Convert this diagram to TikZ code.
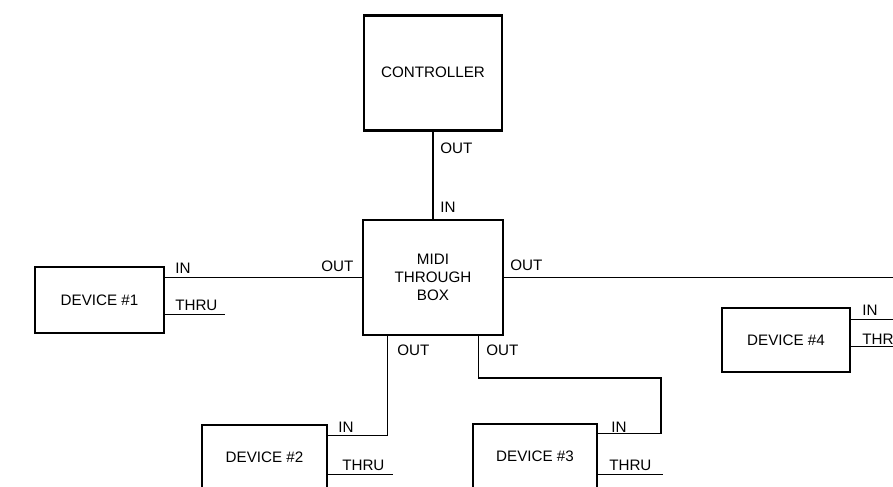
\documentclass[tikz,border=0pt]{standalone}
\usepackage{fontspec}
\setmainfont{Liberation Sans}
\usetikzlibrary{positioning,calc}
\tikzset{
  unit/.style={draw,line width=2pt,align=center,fill=white,font=\fontsize{10.8}{13}\selectfont},
  port/.style={anchor=base west,inner sep=0pt,font=\fontsize{10.8}{13}\selectfont},
  wire/.style={line width=1pt}
}
\begin{document}
\begin{tikzpicture}
\useasboundingbox (0,0) rectangle (22.325,-12.15);
\clip (0,0) rectangle (22.325,-12.15);
% boxes
\node[unit,minimum width=3.5cm,minimum height=2.875cm] (mid) at (10.825,-6.9375) {MIDI\\THROUGH\\BOX};
\node[unit,minimum width=3.45cm,minimum height=2.875cm,above=2.175cm of mid] (ctrl) {CONTROLLER};
\node[unit,minimum width=3.225cm,minimum height=1.65cm] (dev1) at (2.4875,-7.5) {DEVICE \#1};
\node[unit,minimum width=3.125cm,minimum height=1.625cm] (dev2) at (6.6125,-11.4375) {DEVICE \#2};
\node[unit,minimum width=3.1cm,minimum height=1.625cm] (dev3) at (13.375,-11.4125) {DEVICE \#3};
\node[unit,minimum width=3.2cm,minimum height=1.6cm] (dev4) at (19.65,-8.5) {DEVICE \#4};
% ports
\coordinate (d1in) at ($(dev1.north east)+(0,-0.3)$);
\coordinate (d1thru) at ($(dev1.north east)+(0,-1.225)$);
\coordinate (d2in) at ($(dev2.north east)+(0,-0.3)$);
\coordinate (d2thru) at ($(dev2.north east)+(0,-1.275)$);
\coordinate (d3in) at ($(dev3.north east)+(0,-0.275)$);
\coordinate (d3thru) at ($(dev3.north east)+(0,-1.3)$);
\coordinate (d4in) at ($(dev4.north east)+(0,-0.325)$);
\coordinate (d4thru) at ($(dev4.north east)+(0,-1.0)$);
\coordinate (o2) at ($(mid.south west)+(0.65,0)$);
\coordinate (o3) at ($(mid.south east)+(-0.65,0)$);
\coordinate (bend) at (16.525,-9.45);
\coordinate (edge) at (22.6,0);
% wires
\draw[wire] (ctrl) -- (mid);
\draw[wire] (d1in) -- (d1in -| mid.west);
\draw[wire] (d1thru) -- ++(1.5,0);
\draw[wire] (mid.east) -- (mid.east -| edge);
\draw[wire] (o2) |- (d2in);
\draw[wire] (d2thru) -- ++(1.625,0);
\draw[wire] (o3) |- (bend) |- (d3in);
\draw[wire] (d3thru) -- ++(1.625,0);
\draw[wire] (d4in) -- (d4in -| edge);
\draw[wire] (d4thru) -- (d4thru -| edge);
% labels
\node[port] (lco) at (11.0,-3.825) {OUT};
\node[port] (lmi) at (11.0,-5.3) {IN};
\node[port] (l1i) at (4.375,-6.825) {IN};
\node[port] (l1t) at (4.375,-7.75) {THRU};
\node[port] (lmw) at (8.025,-6.775) {OUT};
\node[port] (lme) at (12.75,-6.75) {OUT};
\node[port] (lm2) at (9.925,-8.875) {OUT};
\node[port] (lm3) at (12.15,-8.875) {OUT};
\node[port] (l2i) at (8.45,-10.8) {IN};
\node[port] (l2t) at (8.55,-11.75) {THRU};
\node[port] (l3i) at (15.275,-10.8) {IN};
\node[port] (l3t) at (15.225,-11.75) {THRU};
\node[port] (l4i) at (21.55,-7.875) {IN};
\node[port] (l4t) at (21.55,-8.6) {THRU};
\end{tikzpicture}
\end{document}
